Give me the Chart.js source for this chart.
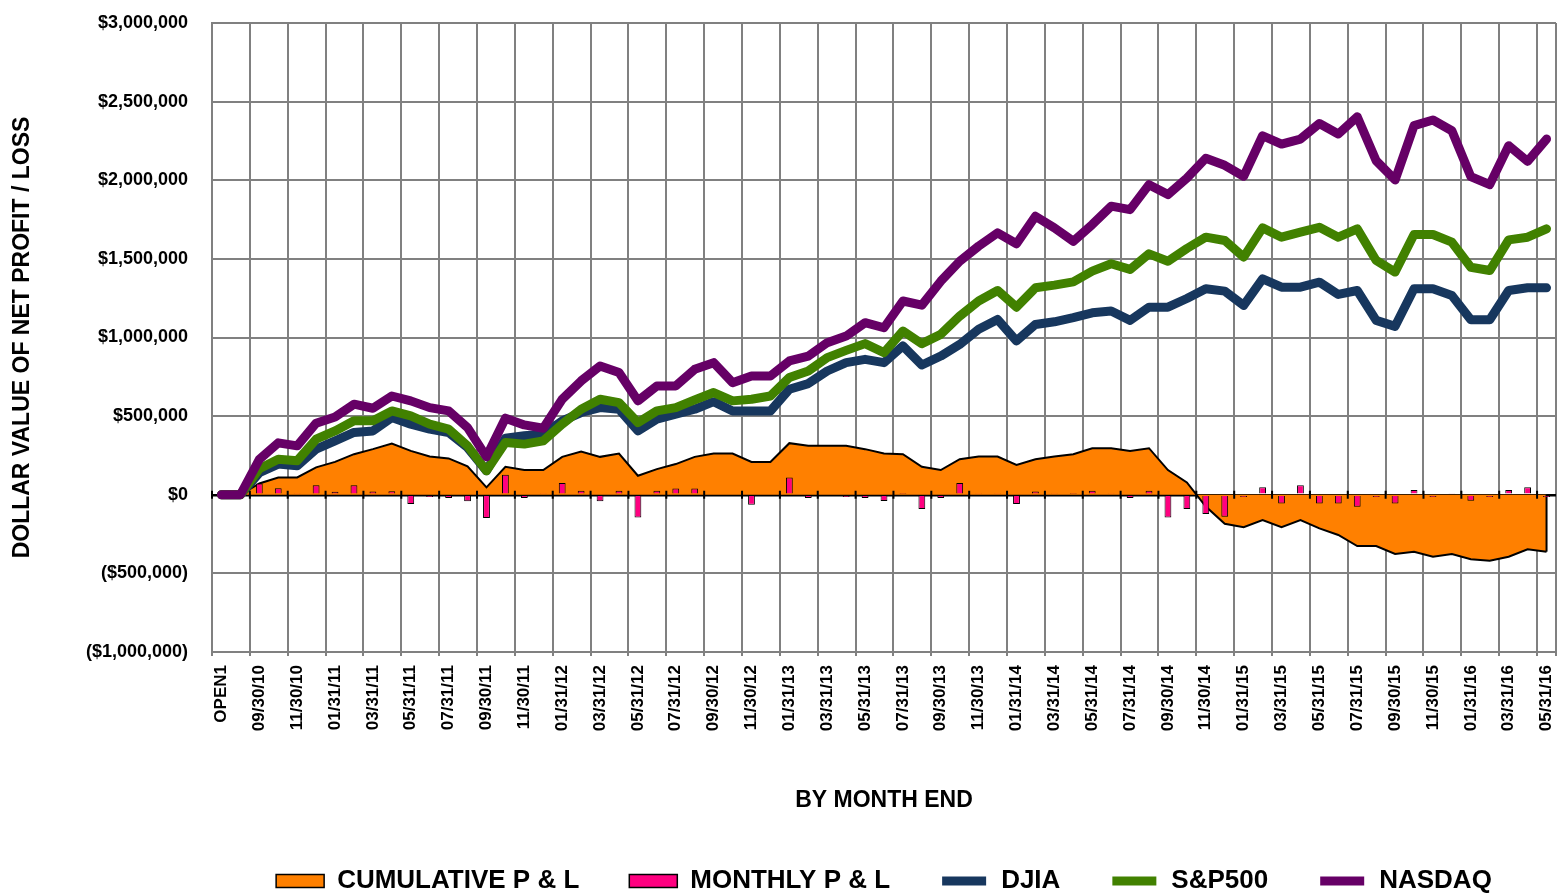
<!DOCTYPE html>
<html>
<head>
<meta charset="utf-8">
<script src="https://cdn.jsdelivr.net/npm/chart.js@4.4.1/dist/chart.umd.min.js"></script>
<style>
html,body{margin:0;padding:0;background:#ffffff;}
#wrap{width:1558px;height:895px;position:relative;}
</style>
</head>
<body>
<div id="wrap"><canvas id="c" width="1558" height="895"></canvas></div>
<script>
const categories = [
  "OPEN1","08/31/10","09/30/10","10/31/10","11/30/10","12/31/10",
  "01/31/11","02/28/11","03/31/11","04/30/11","05/31/11","06/30/11","07/31/11","08/31/11","09/30/11","10/31/11","11/30/11","12/31/11",
  "01/31/12","02/29/12","03/31/12","04/30/12","05/31/12","06/30/12","07/31/12","08/31/12","09/30/12","10/31/12","11/30/12","12/31/12",
  "01/31/13","02/28/13","03/31/13","04/30/13","05/31/13","06/30/13","07/31/13","08/31/13","09/30/13","10/31/13","11/30/13","12/31/13",
  "01/31/14","02/28/14","03/31/14","04/30/14","05/31/14","06/30/14","07/31/14","08/31/14","09/30/14","10/31/14","11/30/14","12/31/14",
  "01/31/15","02/28/15","03/31/15","04/30/15","05/31/15","06/30/15","07/31/15","08/31/15","09/30/15","10/31/15","11/30/15","12/31/15",
  "01/31/16","02/29/16","03/31/16","04/30/16","05/31/16"
];

const cumulativePL = [
  0, 0, 72000, 110000, 110000, 174000,
  209000, 258000, 290000, 326000, 279000, 243000, 231000, 180000, 47000, 178000, 157000, 157000,
  241000, 275000, 241000, 262000, 121000, 163000, 195000, 241000, 262000, 262000, 209000, 209000,
  328000, 311000, 311000, 311000, 290000, 262000, 258000, 178000, 157000, 226000, 243000, 243000,
  190000, 226000, 243000, 258000, 296000, 296000, 279000, 296000, 157000, 78000, -75000, -185000,
  -207000, -161000, -207000, -161000, -214000, -256000, -326000, -326000, -377000, -362000, -394000, -377000,
  -410000, -419000, -394000, -347000, -362000
];

const monthlyPL = [
  0, 0, 72000, 42000, 10000, 61000,
  19000, 61000, 21000, 23000, -59000, -15000, -20000, -42000, -148000, 127000, -20000, 10000,
  74000, 25000, -42000, 25000, -144000, 25000, 40000, 40000, 8000, 8000, -63000, 8000,
  110000, -20000, 8000, -15000, -20000, -40000, 5000, -91000, -20000, 74000, 10000, 10000,
  -59000, 21000, 10000, 5000, 25000, 10000, -20000, 25000, -144000, -91000, -123000, -140000,
  -15000, 47000, -55000, 61000, -55000, -55000, -76000, -15000, -55000, 30000, -15000, 10000,
  -38000, -15000, 30000, 47000, -15000
];

const djia = [
  0, 0, 140000, 195000, 184000, 290000,
  343000, 396000, 406000, 491000, 449000, 417000, 396000, 300000, 152000, 360000, 375000, 385000,
  470000, 523000, 554000, 544000, 406000, 480000, 512000, 544000, 592000, 533000, 533000, 533000,
  671000, 707000, 787000, 840000, 861000, 840000, 946000, 825000, 882000, 956000, 1052000, 1115000,
  978000, 1083000, 1100000, 1126000, 1157000, 1168000, 1109000, 1193000, 1193000, 1248000, 1310000, 1295000,
  1204000, 1373000, 1320000, 1320000, 1352000, 1274000, 1299000, 1109000, 1071000, 1310000, 1310000, 1267000,
  1113000, 1113000, 1299000, 1316000, 1316000
];

const sp500 = [
  0, 0, 165000, 226000, 216000, 353000,
  406000, 470000, 470000, 533000, 501000, 449000, 417000, 311000, 152000, 332000, 322000, 343000,
  449000, 544000, 607000, 586000, 459000, 533000, 554000, 603000, 650000, 597000, 607000, 628000,
  745000, 787000, 872000, 918000, 961000, 904000, 1041000, 961000, 1020000, 1136000, 1232000, 1299000,
  1193000, 1316000, 1333000, 1354000, 1422000, 1469000, 1433000, 1532000, 1485000, 1566000, 1638000, 1617000,
  1511000, 1697000, 1638000, 1670000, 1701000, 1638000, 1691000, 1490000, 1416000, 1655000, 1655000, 1606000,
  1447000, 1426000, 1621000, 1638000, 1691000
];

const nasdaq = [
  0, 0, 225000, 330000, 311000, 455000,
  495000, 576000, 550000, 628000, 597000, 554000, 533000, 427000, 241000, 487000, 444000, 423000,
  607000, 724000, 819000, 777000, 597000, 692000, 692000, 798000, 840000, 713000, 755000, 755000,
  851000, 882000, 967000, 1009000, 1094000, 1062000, 1232000, 1206000, 1358000, 1485000, 1581000, 1665000,
  1596000, 1771000, 1697000, 1612000, 1718000, 1835000, 1813000, 1972000, 1909000, 2014000, 2140000, 2095000,
  2025000, 2283000, 2230000, 2262000, 2361000, 2294000, 2404000, 2124000, 2002000, 2347000, 2383000, 2315000,
  2023000, 1972000, 2220000, 2120000, 2262000
];

const seriesNames = ["CUMULATIVE P & L", "MONTHLY P & L", "DJIA", "S&P500", "NASDAQ"];
const yMin = -1000000, yMax = 3000000, yStep = 500000;

const GRID = "rgb(128,128,128)";
const FONT = "'Liberation Sans', Arial, Helvetica, sans-serif";
Chart.defaults.font.family = FONT;
Chart.defaults.color = "#000000";

function money(v) {
  const s = Math.abs(v).toLocaleString("en-US");
  return v < 0 ? "($" + s + ")" : "$" + s;
}

// Black edge at the end of the cumulative area and small black ticks on the zero line
const areaEdgePlugin = {
  id: "areaEdge",
  afterDatasetDraw(chart, args) {
    if (args.index !== 0) return;
    const ctx = chart.ctx;
    const xs = chart.scales.x, ys = chart.scales.y;
    const y0 = ys.getPixelForValue(0);
    const meta = chart.getDatasetMeta(0);
    const last = meta.data[meta.data.length - 1];
    ctx.save();
    ctx.strokeStyle = "#000000";
    ctx.lineWidth = 2;
    ctx.beginPath();
    ctx.moveTo(last.x, last.y);
    ctx.lineTo(last.x, y0);
    ctx.stroke();
    const half = (xs.getPixelForTick(1) - xs.getPixelForTick(0)) / 2;
    ctx.lineWidth = 2;
    ctx.beginPath();
    for (let k = 0; k < categories.length; k += 2) {
      const x = xs.getPixelForTick(k) - half;
      ctx.moveTo(x, y0 - 4);
      ctx.lineTo(x, y0 + 4);
    }
    ctx.stroke();
    ctx.restore();
  }
};

new Chart(document.getElementById("c"), {
  data: {
    labels: categories,
    datasets: [
      {
        type: "line", label: seriesNames[0], data: cumulativePL,
        backgroundColor: "#FF8000", borderColor: "#000000", borderWidth: 2,
        fill: "origin", pointRadius: 0, tension: 0, order: 5
      },
      {
        type: "bar", label: seriesNames[1], data: monthlyPL,
        backgroundColor: "#FF0080", borderColor: "#000000", borderWidth: 1,
        barPercentage: 0.36, categoryPercentage: 1, order: 4
      },
      {
        type: "line", label: seriesNames[2], data: djia,
        borderColor: "#17375E", backgroundColor: "#17375E", borderWidth: 9,
        fill: false, pointRadius: 0, tension: 0, borderJoinStyle: "round", borderCapStyle: "round", order: 3
      },
      {
        type: "line", label: seriesNames[3], data: sp500,
        borderColor: "#418100", backgroundColor: "#418100", borderWidth: 9,
        fill: false, pointRadius: 0, tension: 0, borderJoinStyle: "round", borderCapStyle: "round", order: 2
      },
      {
        type: "line", label: seriesNames[4], data: nasdaq,
        borderColor: "#660066", backgroundColor: "#660066", borderWidth: 9,
        fill: false, pointRadius: 0, tension: 0, borderJoinStyle: "round", borderCapStyle: "round", order: 1
      }
    ]
  },
  plugins: [areaEdgePlugin],
  options: {
    responsive: false,
    animation: false,
    devicePixelRatio: 1,
    layout: { padding: { left: 0, right: 2, top: 23, bottom: -9 } },
    plugins: {
      tooltip: { enabled: false },
      legend: {
        position: "bottom",
        fullSize: false,
        labels: {
          boxWidth: 48,
          boxHeight: 13,
          padding: 50,
          color: "#000000",
          font: { size: 26, weight: "bold" },
          generateLabels(chart) {
            return chart.data.datasets.map((ds, i) => {
              const isLine = ds.type === "line" && !ds.fill;
              return {
                text: ds.label,
                fillStyle: isLine ? ds.borderColor : ds.backgroundColor,
                strokeStyle: isLine ? "#ffffff" : "#000000",
                lineWidth: isLine ? 4 : 1.5,
                hidden: false,
                datasetIndex: i,
                fontColor: "#000000"
              };
            });
          }
        }
      }
    },
    scales: {
      x: {
        type: "category",
        offset: true,
        grid: {
          offset: true,
          drawTicks: true,
          tickLength: 4,
          lineWidth: 2,
          color: (c) => (c.index === undefined || c.index % 2 === 0) ? GRID : "rgba(0,0,0,0)"
        },
        border: { display: true, color: GRID, width: 2 },
        ticks: {
          autoSkip: false,
          minRotation: 90,
          maxRotation: 90,
          padding: 9,
          color: "#000000",
          font: { size: 17, weight: "bold" },
          callback: (v, i) => (i % 2 === 0 ? categories[i] : "")
        },
        title: {
          display: true,
          text: "BY MONTH END",
          color: "#000000",
          font: { size: 23, weight: "bold" },
          padding: { top: 0, bottom: 4 }
        },
        afterFit(scale) {
          scale.height = 166;
          scale.paddingLeft = 0;
          scale.paddingRight = 0;
        }
      },
      y: {
        min: yMin,
        max: yMax,
        grid: {
          drawTicks: false,
          color: (c) => (c.tick && c.tick.value === 0) ? "#000000" : GRID,
          lineWidth: (c) => (c.tick && c.tick.value === 0) ? 2.5 : 2
        },
        border: { display: true, color: GRID, width: 2 },
        ticks: {
          stepSize: yStep,
          padding: 24,
          color: "#000000",
          font: { size: 18, weight: "bold" },
          callback: (v) => money(v)
        },
        title: {
          display: true,
          text: "DOLLAR VALUE OF NET PROFIT / LOSS",
          color: "#000000",
          font: { size: 23, weight: "bold" },
          padding: { top: 9, bottom: 0 }
        },
        afterFit(scale) {
          scale.width = 212;
          scale.paddingTop = 0;
          scale.paddingBottom = 0;
        }
      }
    }
  }
});
</script>
</body>
</html>
